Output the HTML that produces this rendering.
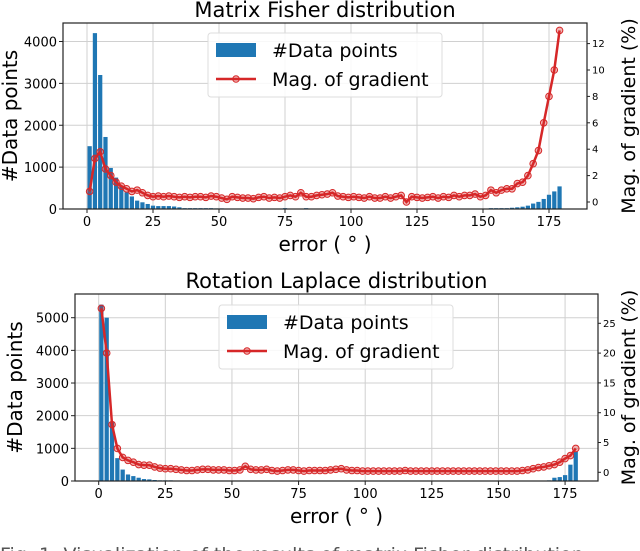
<!DOCTYPE html>
<html><head><meta charset="utf-8"><style>
body{margin:0;background:#fff;}
svg{display:block;font-family:"DejaVu Sans","Liberation Sans",sans-serif;}
</style></head><body>
<svg id="s" width="640" height="551" viewBox="0 0 640 551"></svg>
<script>
const xTicks=[0,25,50,75,100,125,150,175];
const centers=[];for(let i=0;i<90;i++)centers.push(1+2*i);
const fisherCounts=[1500,4200,3200,1720,980,750,560,400,300,200,
160,120,80,70,70,70,60,40,20,20,
20,20,20,20,15,15,10,10,10,10,
10,10,10,10,10,10,10,20,10,10,
10,20,10,10,10,10,10,10,10,10,
10,10,10,10,10,10,10,10,10,10,
10,10,10,10,10,10,10,10,10,10,
10,10,10,10,10,10,20,20,20,20,
30,40,55,80,130,170,240,340,420,540];
const fisherGrad=[0.8,3.3,3.8,2.5,2.0,1.5,1.2,1.0,0.8,0.9,
0.7,0.5,0.4,0.45,0.4,0.45,0.4,0.35,0.4,0.35,
0.4,0.4,0.35,0.45,0.4,0.3,0.2,0.4,0.35,0.3,
0.3,0.25,0.35,0.4,0.3,0.35,0.3,0.4,0.5,0.4,
0.7,0.4,0.4,0.5,0.55,0.6,0.7,0.45,0.4,0.35,
0.4,0.35,0.3,0.4,0.3,0.3,0.4,0.3,0.4,0.5,
0.0,0.4,0.35,0.3,0.35,0.4,0.3,0.4,0.35,0.5,
0.4,0.5,0.5,0.6,0.4,0.5,0.9,0.7,0.9,1.0,
1.0,1.4,1.5,2.0,2.9,3.9,6.0,8.0,10.0,13.0];
const laplaceCounts=[5400,5000,1800,700,350,200,150,100,60,50,
30,20,20,20,15,15,10,10,10,10,
10,10,10,10,10,10,10,10,10,10,
10,10,10,10,10,10,10,10,10,10,
10,10,10,10,10,10,10,10,10,10,
10,10,10,10,10,10,10,10,10,10,
10,10,10,10,10,10,10,10,10,10,
10,10,10,10,10,10,10,10,10,10,
10,10,10,10,20,100,120,180,500,900];
const laplaceGrad=[27.5,20,8,4,2.5,2,1.7,1.3,1.2,1.2,
0.9,0.7,0.6,0.6,0.5,0.4,0.3,0.3,0.4,0.5,
0.5,0.4,0.4,0.4,0.3,0.3,0.4,1.0,0.5,0.4,
0.4,0.5,0.3,0.2,0.3,0.4,0.4,0.3,0.2,0.3,
0.3,0.3,0.3,0.4,0.5,0.6,0.4,0.3,0.3,0.2,
0.2,0.2,0.2,0.2,0.2,0.2,0.2,0.3,0.2,0.2,
0.2,0.2,0.2,0.2,0.2,0.2,0.2,0.2,0.2,0.2,
0.2,0.2,0.2,0.2,0.2,0.2,0.2,0.2,0.2,0.3,
0.4,0.6,0.8,0.9,1.1,1.3,1.7,2.3,2.8,4.0];
const fisherLeftTicks=[0,1000,2000,3000,4000];
const fisherRightTicks=[0,2,4,6,8,10,12];
const laplaceLeftTicks=[0,1000,2000,3000,4000,5000];
const laplaceRightTicks=[0,5,10,15,20,25];

const NS="http://www.w3.org/2000/svg";
const svg=document.getElementById('s');
function el(tag,attrs,parent,text){const e=document.createElementNS(NS,tag);for(const k in attrs)e.setAttribute(k,attrs[k]);if(text!==undefined)e.textContent=text;(parent||svg).appendChild(e);return e;}

function chart(cfg){
  const g=el('g',{});
  
  
  const xs=v=>cfg.x0+v*cfg.xk;
  const yl=v=>cfg.yb-v*cfg.lk;
  const yr=v=>cfg.r0-v*cfg.rk;
  xTicks.forEach(t=>{const l=el('line',{x1:xs(t),x2:xs(t),y1:cfg.top,y2:cfg.yb,stroke:'#d0d0d0','stroke-width':1},g);
    });
  cfg.lt.forEach(t=>{const l=el('line',{x1:cfg.L,x2:cfg.R,y1:yl(t),y2:yl(t),stroke:'#d0d0d0','stroke-width':1},g);
    });
  cfg.counts.forEach((c,i)=>{const w=1.6*cfg.xk;const b=el('rect',{x:xs(centers[i])-w/2,y:yl(c),width:w,height:Math.max(0,yl(0)-yl(c)),fill:'#1f77b4'},g);
    });
  const pts=cfg.grad.map((v,i)=>xs(centers[i])+','+yr(v)).join(' ');
  const pl=el('polyline',{points:pts,fill:'none',stroke:'#d62728','stroke-width':2.5},g);
  
  cfg.grad.forEach((v,i)=>{const c=el('circle',{cx:xs(centers[i]),cy:yr(v),r:3.3,fill:'rgba(214,39,40,0.35)',stroke:'#d62728','stroke-width':1},g);
    });
  const f=el('rect',{x:cfg.L,y:cfg.top,width:cfg.R-cfg.L,height:cfg.yb-cfg.top,fill:'none',stroke:'#222','stroke-width':1.2},g);
  
  xTicks.forEach(t=>{el('line',{x1:xs(t),x2:xs(t),y1:cfg.yb,y2:cfg.yb+4,stroke:'#222'},g);
    const tx=el('text',{x:xs(t),y:cfg.yb+17,'text-anchor':'middle','font-size':13},g,t);
    });
  cfg.lt.forEach(t=>{el('line',{x1:cfg.L-4,x2:cfg.L,y1:yl(t),y2:yl(t),stroke:'#222'},g);
    const tx=el('text',{x:cfg.L-6,y:yl(t)+5,'text-anchor':'end','font-size':13},g,t);
    });
  cfg.rt.forEach(t=>{el('line',{x1:cfg.R,x2:cfg.R+3,y1:yr(t),y2:yr(t),stroke:'#222'},g);
    const tx=el('text',{x:cfg.R+5,y:yr(t)+3.5,'font-size':10},g,t);
    });
  const ti=el('text',{x:(cfg.L+cfg.R)/2,y:cfg.top-6,'text-anchor':'middle','font-size':21},g,cfg.title);
  
  const xl=el('text',{x:(cfg.L+cfg.R)/2,y:cfg.yb+42,'text-anchor':'middle','font-size':20},g,'error ( ° )');
  
  const cy=(cfg.top+cfg.yb)/2;
  const ly=el('text',{x:cfg.lx,y:cy,'text-anchor':'middle','font-size':20,transform:`rotate(-90 ${cfg.lx} ${cy})`},g,'#Data points');
  
  const ry=el('text',{x:635,y:cy,'text-anchor':'middle','font-size':19,transform:`rotate(-90 635 ${cy})`},g,'Mag. of gradient (%)');
  
  const lg=el('g',{},g);
  
  el('rect',{x:cfg.lgx,y:cfg.lgy,width:234,height:64,rx:3,fill:'rgba(255,255,255,0.85)',stroke:'#ddd'},lg);
  const e1=el('rect',{x:cfg.lgx+8,y:cfg.lgy+10,width:40,height:14,fill:'#1f77b4'},lg);
  
  const t1=el('text',{x:cfg.lgx+64,y:cfg.lgy+24,'font-size':19},lg,'#Data points');
  
  el('line',{x1:cfg.lgx+8,x2:cfg.lgx+48,y1:cfg.lgy+46,y2:cfg.lgy+46,stroke:'#d62728','stroke-width':2.5},lg);
  el('circle',{cx:cfg.lgx+28,cy:cfg.lgy+46,r:3.3,fill:'rgba(214,39,40,0.35)',stroke:'#d62728'},lg);
  const t2=el('text',{x:cfg.lgx+64,y:cfg.lgy+53,'font-size':19},lg,'Mag. of gradient');
  
}
chart({name:'fisher-chart',title:'Matrix Fisher distribution',L:63,R:587,top:23,yb:209,x0:87,xk:2.64,lk:167.5/4000,r0:202,rk:13.2,
  counts:fisherCounts,grad:fisherGrad,lt:fisherLeftTicks,rt:fisherRightTicks,lx:17,lgx:208,lgy:33});
chart({name:'laplace-chart',title:'Rotation Laplace distribution',L:75,R:598,top:294,yb:481,x0:98.7,xk:2.665,lk:163.3/5000,r0:472.3,rk:5.96,
  counts:laplaceCounts,grad:laplaceGrad,lt:laplaceLeftTicks,rt:laplaceRightTicks,lx:22,lgx:219,lgy:305});
const cap=el('text',{x:0,y:561,'font-size':19,fill:'#555'},svg,'Fig. 1: Visualization of the results of matrix Fisher distribution');

</script>
</body></html>
